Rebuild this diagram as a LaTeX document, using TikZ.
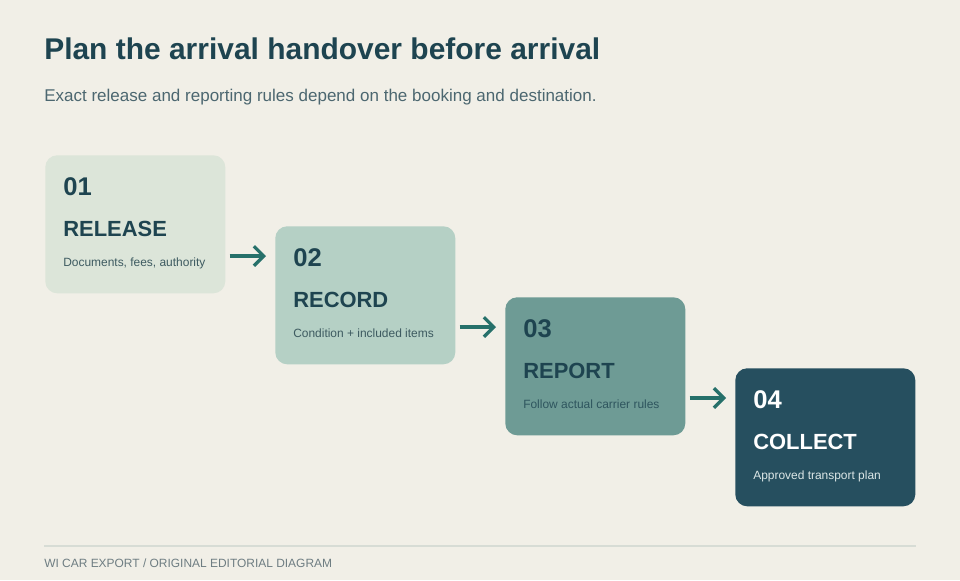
\documentclass[tikz,border=0pt]{standalone}
\usepackage{fontspec}
\setmainfont{Liberation Sans}
\usetikzlibrary{arrows.meta}

\definecolor{bg}{HTML}{F1EFE7}
\definecolor{ink}{HTML}{1E4450}
\definecolor{sub}{HTML}{4C6770}
\definecolor{stepA}{HTML}{DCE5D9}
\definecolor{stepB}{HTML}{B5D0C5}
\definecolor{stepC}{HTML}{6E9B95}
\definecolor{stepD}{HTML}{264F5F}
\definecolor{descA}{HTML}{3D5A60}
\definecolor{descD}{HTML}{DCE7E7}
\definecolor{arrowc}{HTML}{26706A}
\definecolor{rulec}{HTML}{D7DCD5}
\definecolor{foot}{HTML}{6E7D82}

\tikzset{
  stepbox/.style={rounded corners=0.3cm, minimum width=4.5cm, minimum height=3.45cm,
    anchor=north west, inner sep=0pt},
  num/.style={anchor=base west, inner sep=0pt, font=\fontsize{18.2}{22}\selectfont\bfseries},
  head/.style={anchor=base west, inner sep=0pt, font=\fontsize{15.6}{19}\selectfont\bfseries},
  desc/.style={anchor=base west, inner sep=0pt, font=\fontsize{8.5}{10}\selectfont},
  flow/.style={draw=arrowc, line width=2.3pt, -{Straight Barb[length=7pt,width=14pt]}}
}

\begin{document}
\begin{tikzpicture}[x=0.025cm, y=-0.025cm]
\fill[bg] (0,0) rectangle (960,580);
% Titre
\node[anchor=base west, inner sep=0pt, text=ink, font=\fontsize{21.3}{25}\selectfont\bfseries]
  (title) at (44,59) {Plan the arrival handover before arrival};
\node[anchor=base west, inner sep=0pt, text=sub, font=\fontsize{12.1}{15}\selectfont]
  (subtitle) at (44,101) {Exact release and reporting rules depend on the booking and destination.};
% Etapes
\foreach \i/\x/\y/\fillc/\txtc/\descc/\name/\info in {
    1/45/155/stepA/ink/descA/RELEASE/{Documents, fees, authority},
    2/275/226/stepB/ink/descA/RECORD/{Condition + included items},
    3/505/297/stepC/ink/ink!80!stepC/REPORT/{Follow actual carrier rules},
    4/735/368/stepD/white/descD/COLLECT/{Approved transport plan}} {
  \node[stepbox, fill=\fillc] (s\i) at (\x,\y) {};
  \node[num, text=\txtc] (n\i) at (\x+18,\y+40) {0\i};
  \node[head, text=\txtc] (h\i) at (\x+18,\y+81) {\name};
  \node[desc, text=\descc] (d\i) at (\x+18,\y+111) {\info};
}
% Fleches
\foreach \a/\b in {1/2,2/3,3/4} {
  \coordinate (from\a) at ([shift={(4,101)}]s\a.north east);
  \coordinate (to\b) at ([shift={(-9,30)}]s\b.north west);
  \draw[flow] (from\a) -- (to\b);
}
% Pied
\draw[rulec, line width=1.4pt] (44,546) -- (916,546);
\node[anchor=base west, inner sep=0pt, text=foot, font=\fontsize{8.5}{10}\selectfont]
  (footer) at (44,567) {WI CAR EXPORT / ORIGINAL EDITORIAL DIAGRAM};
\end{tikzpicture}
\end{document}
